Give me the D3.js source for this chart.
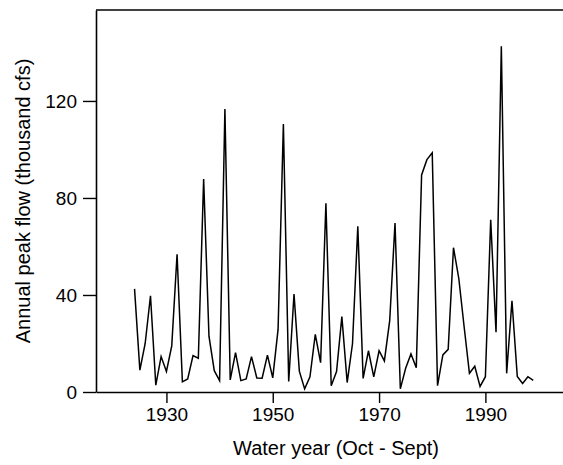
<!DOCTYPE html>
<html>
<head>
<meta charset="utf-8">
<script src="https://cdn.jsdelivr.net/npm/d3@7"></script>
<style>
  html, body { margin: 0; padding: 0; background: #fff; }
  svg { display: block; }
  text { font-family: "Liberation Sans", Arial, sans-serif; fill: #000; }
</style>
</head>
<body>
<svg id="chart" width="563" height="465"></svg>
<script>
// ---- data ----
const years = d3.range(1924, 2000);
const peakFlow = [
  42.5, 9, 20, 39.7, 2.8, 14.6, 8.5, 19, 56.8, 4.2,
  5.4, 15, 13.9, 87.8, 23, 8.8, 4.7, 116.7, 5, 16.2,
  4.7, 5.4, 14.6, 5.8, 5.7, 15.2, 5.8, 25.8, 110.5, 4.3,
  40.4, 8.6, 1.3, 6.3, 23.8, 12.1, 77.8, 2.6, 8.4, 31.1,
  3.9, 19.9, 68.3, 5.6, 17, 6.2, 17, 12.8, 29.4, 69.7,
  1.3, 9.8, 15.7, 10, 89.5, 95.8, 98.6, 2.6, 15.3, 17.6,
  59.5, 46.8, 26.9, 7.7, 10.6, 2.3, 6.3, 71, 24.6, 142.5,
  7.7, 37.6, 6.4, 3.5, 6.3, 4.8
];
const xTicks = [1930, 1950, 1970, 1990];
const yTicks = [0, 40, 80, 120];
const xTitle = "Water year (Oct - Sept)";
const yTitle = "Annual peak flow (thousand cfs)";

// ---- layout ----
const mLeft = 96, mRight = 563, mTop = 10, mBottom = 392;
const svg = d3.select("#chart");

const x = d3.scaleLinear().domain([1916.75, 2004.6]).range([mLeft, mRight]);
const y = d3.scaleLinear().domain([0, 157.5]).range([mBottom, mTop]);

const fontSize = 19;

// x axis
const gx = svg.append("g").attr("transform", `translate(0,${mBottom})`)
  .call(d3.axisBottom(x).tickValues(xTicks).tickFormat(d3.format("d"))
    .tickSizeInner(11).tickSizeOuter(0).tickPadding(5));
// y axis
const gy = svg.append("g").attr("transform", `translate(${mLeft},0)`)
  .call(d3.axisLeft(y).tickValues(yTicks).tickSizeInner(13).tickSizeOuter(0).tickPadding(6));

[gx, gy].forEach(g => {
  g.selectAll(".domain").attr("stroke", "#000").attr("stroke-width", 1.6);
  g.selectAll(".tick line").attr("stroke", "#000").attr("stroke-width", 1.4);
  g.selectAll(".tick text").attr("font-size", fontSize)
    .attr("font-family", '"Liberation Sans", Arial, sans-serif').attr("fill", "#000");
});

// top frame line
svg.append("line")
  .attr("x1", mLeft).attr("x2", mRight)
  .attr("y1", y(157.5)).attr("y2", y(157.5))
  .attr("stroke", "#000").attr("stroke-width", 1.6);

// series line
const line = d3.line().x((d, i) => x(years[i])).y(d => y(d));
svg.append("path")
  .datum(peakFlow)
  .attr("d", line)
  .attr("fill", "none")
  .attr("stroke", "#000")
  .attr("stroke-width", 1.5)
  .attr("stroke-linejoin", "miter");

// axis titles
svg.append("text")
  .attr("x", (166.5 + 485.5) / 2 + 10)
  .attr("y", 455)
  .attr("text-anchor", "middle")
  .attr("font-size", 20)
  .text(xTitle);

svg.append("text")
  .attr("transform", `translate(30,${(mTop + mBottom) / 2}) rotate(-90)`)
  .attr("text-anchor", "middle")
  .attr("font-size", 20)
  .text(yTitle);
</script>
</body>
</html>
